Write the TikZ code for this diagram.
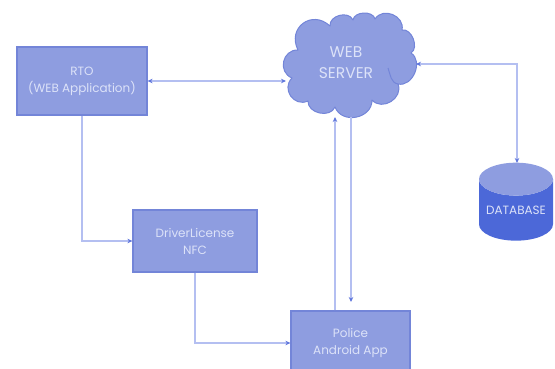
\documentclass[tikz,border=0pt]{standalone}
\usepackage{fontspec}
\setmainfont{Poppins}
\usetikzlibrary{shapes.geometric,arrows.meta,calc}
\definecolor{boxfill}{HTML}{8E9DE0}
\definecolor{boxline}{HTML}{7385D8}
\definecolor{linkc}{HTML}{B4BFF1}
\definecolor{tipc}{HTML}{5F76DC}
\definecolor{txtc}{HTML}{DCE2F8}
\definecolor{dbbody}{HTML}{4C68D8}
\tikzset{
  boxnode/.style={draw=boxline,line width=1.2pt,fill=boxfill,text=txtc,align=center,font=\fontsize{12}{17}\selectfont,inner sep=0pt},
  linkline/.style={draw=linkc,line width=1.1pt},
  tipend/.style={-{Stealth[length=5pt,width=4.5pt,color=tipc]}},
  tipboth/.style={{Stealth[length=5pt,width=4.5pt,color=tipc]}-{Stealth[length=5pt,width=4.5pt,color=tipc]}},
  cloudline/.style={draw=boxline,line width=1pt,fill=boxfill,line join=round}
}
\begin{document}
\begin{tikzpicture}[x=1pt,y=-1pt]
\useasboundingbox (0,0) rectangle (555,369);
% cloud
\coordinate (p0) at (298,50);
\coordinate (p1) at (330,26);
\coordinate (p2) at (353,20);
\coordinate (p3) at (375,19);
\coordinate (p4) at (402,30);
\coordinate (p5) at (411,53);
\coordinate (p6) at (398,84);
\coordinate (p7) at (372,100);
\coordinate (p8) at (335,107);
\coordinate (p9) at (308,101);
\coordinate (p10) at (292,78);
\draw[cloudline] (p0)
  .. controls ($(p0)!.62!80:(p1)$) and ($(p1)!.62!-80:(p0)$) .. (p1)
  .. controls ($(p1)!.45!80:(p2)$) and ($(p2)!.45!-80:(p1)$) .. (p2)
  .. controls ($(p2)!.4!80:(p3)$) and ($(p3)!.4!-80:(p2)$) .. (p3)
  .. controls ($(p3)!.5!80:(p4)$) and ($(p4)!.5!-80:(p3)$) .. (p4)
  .. controls ($(p4)!.4!80:(p5)$) and ($(p5)!.4!-80:(p4)$) .. (p5)
  .. controls ($(p5)!.45!80:(p6)$) and ($(p6)!.45!-80:(p5)$) .. (p6)
  .. controls ($(p6)!.5!80:(p7)$) and ($(p7)!.5!-80:(p6)$) .. (p7)
  .. controls ($(p7)!.5!80:(p8)$) and ($(p8)!.5!-80:(p7)$) .. (p8)
  .. controls ($(p8)!.45!80:(p9)$) and ($(p9)!.45!-80:(p8)$) .. (p9)
  .. controls ($(p9)!.55!80:(p10)$) and ($(p10)!.55!-80:(p9)$) .. (p10)
  .. controls ($(p10)!.55!80:(p0)$) and ($(p0)!.55!-80:(p10)$) .. (p0) -- cycle;
\draw[draw=boxline,line width=1pt] (388,68) to[out=-70,in=170] (p6);
\node[text=txtc,align=center,font=\fontsize{15.5}{21}\selectfont,inner sep=0pt] (web) at (346,63) {WEB\\SERVER};
\coordinate (webw) at (286,81);
\coordinate (webe) at (416,64);
\coordinate (webup) at (335,117);
\coordinate (webdn) at (351,117);
\coordinate (bend1) at (517,64);
% boxes
\node[boxnode,minimum width=130pt,minimum height=68pt] (rto) at (82,81) {RTO\\(WEB Application)};
\node[boxnode,minimum width=124pt,minimum height=62pt] (drv) at (195,241) {DriverLicense\\NFC};
\node[boxnode,minimum width=119pt,minimum height=64pt] (pol) at (350.5,343) {Police\\Android App};
% database
\node[cylinder,shape border rotate=90,aspect=0.55,minimum width=74pt,minimum height=78pt,inner sep=0pt,
  cylinder uses custom fill,cylinder body fill=dbbody,cylinder end fill=boxfill,draw=none,text=txtc,
  font=\fontsize{12}{14}\selectfont] (db) at (516,210) {DATABASE};
\coordinate (dbtop) at (517,163);
% connectors
\draw[linkline,tipboth] (rto.east) -- (webw);
\draw[linkline,tipend] (rto.south) |- (drv.west);
\draw[linkline,tipend] (drv.south) |- (pol.west);
\draw[linkline,tipend] ([xshift=-15.5pt]pol.north) -- (webup);
\coordinate (poltip) at (351,302);
\draw[linkline,tipend] (webdn) -- (poltip);
\draw[linkline,tipboth] (webe) -- (bend1) -- (dbtop);
\end{tikzpicture}
\end{document}
